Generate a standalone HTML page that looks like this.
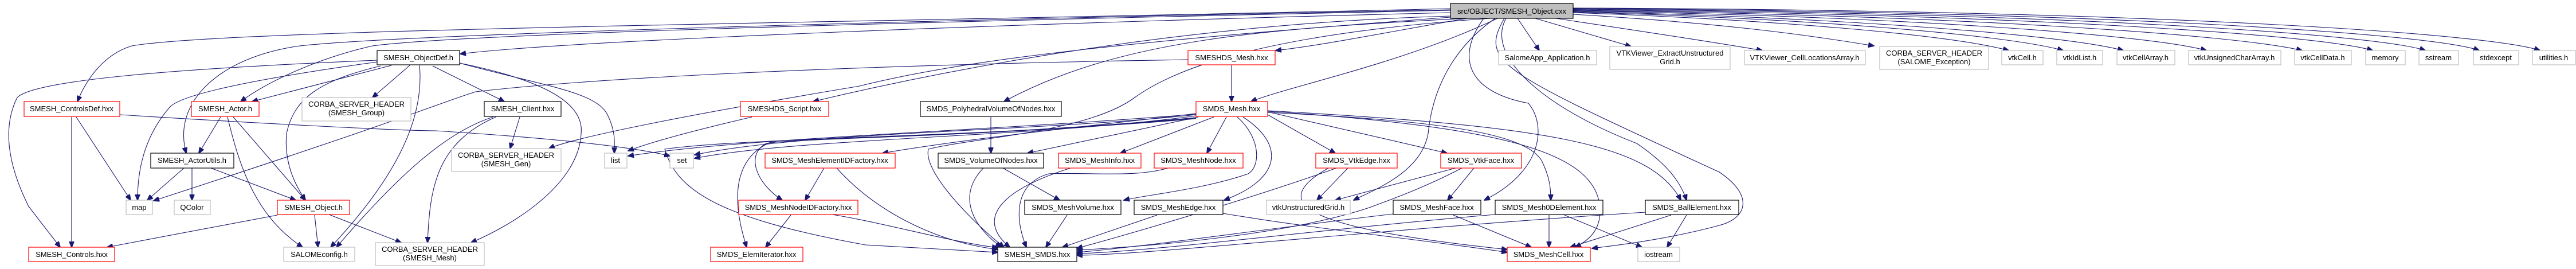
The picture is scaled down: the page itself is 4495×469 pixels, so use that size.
<!DOCTYPE html>
<html><head><meta charset="utf-8"><style>
html,body{margin:0;padding:0;background:#fff;}
svg{display:block;}
text{font-family:"Liberation Sans",sans-serif;font-size:13px;fill:#000;text-anchor:middle;}
.e{fill:none;stroke:#191970;stroke-width:1.1;}
.b{fill:#fff;stroke:#000;stroke-width:1.2;}
.r{fill:#fff;stroke:#f00;stroke-width:1.2;}
.g{fill:#fff;stroke:#bfbfbf;stroke-width:1.2;}
</style></head><body>
<svg width="4495" height="469" viewBox="0 0 4495 469" xmlns="http://www.w3.org/2000/svg">
<defs><marker id="a" markerWidth="11" markerHeight="9" refX="10" refY="4.5" orient="auto" markerUnits="userSpaceOnUse"><path d="M0,0 L11,4.5 L0,9 z" fill="#191970" stroke="#191970"/></marker></defs>
<g class="e" marker-end="url(#a)">
<!-- main to left -->
<path d="M2531,22 C1800,40 1000,70 803,94"/>
<path d="M2531,15 C1500,40 400,50 230,80 C180,95 150,140 135,177"/>
<path d="M2531,18 C1500,40 800,60 650,80 C560,100 470,140 420,177"/>
<path d="M2531,17 C1600,35 700,60 523,80 C380,100 300,180 325,267"/>
<path d="M2531,28 C2100,40 1700,110 1419,177"/>
<path d="M2531,30 C2000,70 1700,100 1500,150 C1200,200 1000,240 958,259"/>
<path d="M2560,32 C2200,50 1950,70 1752,177"/>
<path d="M2560,32 C2400,60 2300,80 2226,88"/>
<path d="M2613,32 C2450,110 2250,150 2183,177"/>
<path d="M2600,32 C2200,60 2050,120 1980,170 C1900,230 1700,240 1620,260 C1610,300 1700,390 1752,431"/>
<path d="M2609,32 C2540,80 2500,150 2492,233 C2480,300 2400,330 2362,349"/>
<path d="M2589,32 C2540,100 2560,160 2667,180 C2700,220 2690,300 2590,349"/>
<path d="M2628,32 C2590,100 2700,190 2856,250 C2900,280 2930,310 2943,349"/>
<path d="M2625,32 C2580,110 2620,125 3000,300 C3060,340 3050,380 3000,393 C2900,420 2800,430 2778,433"/>
<!-- main to right row -->
<path d="M2648,32 L2686,88"/>
<path d="M2679,32 L2846,81"/>
<path d="M2715,32 C2900,60 3000,75 3075,88"/>
<path d="M2745,25 C3000,40 3150,60 3270,80"/>
<path d="M2745,22 C3100,35 3400,60 3505,88"/>
<path d="M2745,21 C3150,32 3500,60 3600,88"/>
<path d="M2745,20 C3200,30 3600,60 3705,88"/>
<path d="M2745,19 C3300,28 3750,60 3850,88"/>
<path d="M2745,18 C3400,26 3900,60 4017,88"/>
<path d="M2745,17 C3500,24 4050,60 4140,88"/>
<path d="M2745,16 C3600,22 4150,60 4232,88"/>
<path d="M2745,15 C3700,20 4250,60 4326,88"/>
<path d="M2745,14 C3800,18 4350,60 4432,88"/>
<!-- ObjectDef -->
<path d="M658,105 C300,120 60,140 30,170 C0,230 20,300 50,360 L105,431"/>
<path d="M658,108 C500,130 320,160 296,187 C250,240 240,300 240,349"/>
<path d="M683,114 L440,177"/>
<path d="M715,114 L650,170"/>
<path d="M664,115 C560,140 513,170 500,233 C495,290 520,330 533,349"/>
<path d="M732,114 C740,200 700,300 577,431"/>
<path d="M802,110 C950,140 1020,180 1014,233 C1010,320 900,390 822,423"/>
<path d="M755,115 L880,177"/>
<path d="M802,110 C950,150 1040,160 1060,200 C1075,230 1072,250 1072,267"/>
<!-- CDef / Actor / AU / Obj -->
<path d="M209,200 C450,215 700,228 760,228 C950,240 1100,255 1169,272"/>
<path d="M133,204 L228,349"/>
<path d="M125,204 L125,431"/>
<path d="M385,204 L347,267"/>
<path d="M407,204 L533,349"/>
<path d="M397,204 C420,300 450,380 528,431"/>
<path d="M321,293 L257,349"/>
<path d="M335,293 L335,349"/>
<path d="M368,293 L516,349"/>
<path d="M484,375 L187,431"/>
<path d="M549,375 L555,431"/>
<path d="M574,374 L700,423"/>
<!-- Client -->
<path d="M907,204 L890,259"/>
<path d="M860,204 C780,230 700,300 587,431"/>
<path d="M865,204 C760,250 750,330 746,423"/>
<path d="M2073,104 C1400,115 1000,140 830,160 C780,175 700,210 268,350"/>
<path d="M1312,204 C1200,230 1130,250 1096,263"/>
<!-- SMDS_Mesh -->
<path d="M2149,114 L2149,177"/>
<path d="M2087,198 C1900,220 1700,240 1540,267"/>
<path d="M2087,200 C1800,230 1400,230 1212,270"/>
<path d="M2087,202 C1800,240 1400,240 1212,276"/>
<path d="M2087,199 C1700,230 1300,240 1096,272"/>
<path d="M2091,204 L1793,267"/>
<path d="M2118,204 L1955,267"/>
<path d="M2140,204 L2106,267"/>
<path d="M2159,204 C2200,240 2200,290 2178,303 C2100,330 2000,340 1961,349"/>
<path d="M2169,204 C2240,250 2240,310 2136,349"/>
<path d="M2212,200 L2330,267"/>
<path d="M2212,195 L2525,267"/>
<path d="M2212,196 C2500,210 2660,230 2690,280 C2705,310 2706,330 2706,349"/>
<path d="M2212,194 C2600,220 2770,260 2790,350 C2800,400 2770,420 2749,431"/>
<path d="M2212,193 C2700,220 2880,250 2933,349"/>
<path d="M2087,205 C1700,240 1400,240 1347,247 C1290,270 1270,330 1303,431"/>
<path d="M2087,206 C1700,240 1400,240 1337,250 C1300,270 1320,320 1365,349"/>
<path d="M2087,207 C1700,240 1300,240 1160,260 C1180,330 1250,380 1510,427 L1741,440"/>
<!-- lower -->
<path d="M1438,293 L1405,349"/>
<path d="M1460,293 C1520,360 1620,420 1741,435"/>
<path d="M1380,375 L1336,431"/>
<path d="M1452,374 C1550,390 1650,420 1741,432"/>
<path d="M1729,204 L1729,267"/>
<path d="M1716,293 C1680,330 1680,380 1747,431"/>
<path d="M1750,293 L1849,349"/>
<path d="M1868,293 C1750,330 1700,380 1762,431"/>
<path d="M2038,293 C1980,310 1900,300 1830,303 C1770,320 1770,380 1791,431"/>
<path d="M1862,375 L1825,431"/>
<path d="M2019,375 L1854,431"/>
<path d="M2134,372 C2300,400 2500,420 2630,440"/>
<path d="M2352,293 L2298,349"/>
<path d="M2540,293 L2330,349"/>
<path d="M2332,293 C2200,340 2000,400 1879,433"/>
<path d="M2318,293 C2200,360 2300,400 2630,435"/>
<path d="M2572,293 L2526,349"/>
<path d="M2551,293 C2480,330 2420,350 2395,360 C2250,410 2000,430 1879,436"/>
<path d="M2431,373 C2200,400 2000,430 1879,440"/>
<path d="M2536,375 L2672,431"/>
<path d="M2703,375 L2703,431"/>
<path d="M2730,375 L2865,431"/>
<path d="M2609,374 C2300,400 2000,440 1879,442"/>
<path d="M2916,375 L2740,431"/>
<path d="M2943,375 L2909,431"/>
<path d="M2871,370 C2400,400 2000,445 1879,445"/>
</g>
<g>
<rect class="g" x="2531" y="6" width="214" height="26" style="fill:#bfbfbf;stroke:#000"/><text x="2638" y="24">src/OBJECT/SMESH_Object.cxx</text>
<rect class="b" x="658" y="88" width="144" height="25"/><text x="730" y="105">SMESH_ObjectDef.h</text>
<rect class="r" x="42" y="177" width="167" height="26"/><text x="125" y="194">SMESH_ControlsDef.hxx</text>
<rect class="r" x="334" y="177" width="118" height="26"/><text x="393" y="194">SMESH_Actor.h</text>
<rect class="g" x="527" y="170" width="190" height="41"/><text x="622" y="186">CORBA_SERVER_HEADER</text><text x="622" y="201">(SMESH_Group)</text>
<rect class="b" x="263" y="267" width="145" height="26"/><text x="335" y="284">SMESH_ActorUtils.h</text>
<rect class="g" x="220" y="349" width="46" height="25"/><text x="243" y="366">map</text>
<rect class="g" x="304" y="349" width="63" height="25"/><text x="335" y="366">QColor</text>
<rect class="r" x="484" y="349" width="126" height="25"/><text x="547" y="366">SMESH_Object.h</text>
<rect class="r" x="50" y="431" width="150" height="25"/><text x="125" y="448">SMESH_Controls.hxx</text>
<rect class="g" x="495" y="431" width="124" height="25"/><text x="557" y="448">SALOMEconfig.h</text>
<rect class="g" x="655" y="423" width="190" height="40"/><text x="750" y="439">CORBA_SERVER_HEADER</text><text x="750" y="454">(SMESH_Mesh)</text>
<rect class="b" x="845" y="177" width="134" height="26"/><text x="912" y="194">SMESH_Client.hxx</text>
<rect class="g" x="788" y="259" width="191" height="40"/><text x="883" y="275">CORBA_SERVER_HEADER</text><text x="883" y="290">(SMESH_Gen)</text>
<rect class="g" x="1055" y="267" width="39" height="26"/><text x="1074" y="284">list</text>
<rect class="g" x="1169" y="267" width="41" height="26"/><text x="1190" y="284">set</text>
<rect class="r" x="1292" y="177" width="154" height="26"/><text x="1369" y="194">SMESHDS_Script.hxx</text>
<rect class="r" x="1335" y="267" width="227" height="26"/><text x="1448" y="284">SMDS_MeshElementIDFactory.hxx</text>
<rect class="r" x="1289" y="349" width="208" height="25"/><text x="1393" y="366">SMDS_MeshNodeIDFactory.hxx</text>
<rect class="r" x="1240" y="431" width="161" height="25"/><text x="1320" y="448">SMDS_ElemIterator.hxx</text>
<rect class="r" x="2073" y="88" width="152" height="25"/><text x="2149" y="105">SMESHDS_Mesh.hxx</text>
<rect class="b" x="1606" y="177" width="246" height="26"/><text x="1729" y="194">SMDS_PolyhedralVolumeOfNodes.hxx</text>
<rect class="r" x="2087" y="177" width="125" height="26"/><text x="2149" y="194">SMDS_Mesh.hxx</text>
<rect class="b" x="1637" y="267" width="184" height="26"/><text x="1729" y="284">SMDS_VolumeOfNodes.hxx</text>
<rect class="r" x="1847" y="267" width="144" height="26"/><text x="1919" y="284">SMDS_MeshInfo.hxx</text>
<rect class="r" x="2014" y="267" width="155" height="26"/><text x="2091" y="284">SMDS_MeshNode.hxx</text>
<rect class="b" x="1788" y="349" width="168" height="25"/><text x="1872" y="366">SMDS_MeshVolume.hxx</text>
<rect class="b" x="1979" y="349" width="155" height="25"/><text x="2056" y="366">SMDS_MeshEdge.hxx</text>
<rect class="g" x="2210" y="349" width="146" height="25"/><text x="2283" y="366">vtkUnstructuredGrid.h</text>
<rect class="b" x="1741" y="431" width="138" height="25"/><text x="1810" y="448">SMESH_SMDS.hxx</text>
<rect class="g" x="2615" y="88" width="171" height="25"/><text x="2700" y="105">SalomeApp_Application.h</text>
<rect class="g" x="2809" y="81" width="210" height="40"/><text x="2914" y="97">VTKViewer_ExtractUnstructured</text><text x="2914" y="112">Grid.h</text>
<rect class="r" x="2296" y="267" width="142" height="26"/><text x="2367" y="284">SMDS_VtkEdge.hxx</text>
<rect class="r" x="2514" y="267" width="141" height="26"/><text x="2584" y="284">SMDS_VtkFace.hxx</text>
<rect class="b" x="2431" y="349" width="153" height="25"/><text x="2507" y="366">SMDS_MeshFace.hxx</text>
<rect class="b" x="2609" y="349" width="188" height="25"/><text x="2703" y="366">SMDS_Mesh0DElement.hxx</text>
<rect class="b" x="2871" y="349" width="163" height="25"/><text x="2952" y="366">SMDS_BallElement.hxx</text>
<rect class="r" x="2630" y="431" width="145" height="25"/><text x="2702" y="448">SMDS_MeshCell.hxx</text>
<rect class="g" x="2858" y="431" width="73" height="25"/><text x="2894" y="448">iostream</text>
<rect class="g" x="3044" y="88" width="211" height="25"/><text x="3149" y="105">VTKViewer_CellLocationsArray.h</text>
<rect class="g" x="3280" y="81" width="190" height="40"/><text x="3375" y="97">CORBA_SERVER_HEADER</text><text x="3375" y="112">(SALOME_Exception)</text>
<rect class="g" x="3493" y="88" width="72" height="25"/><text x="3529" y="105">vtkCell.h</text>
<rect class="g" x="3589" y="88" width="80" height="25"/><text x="3629" y="105">vtkIdList.h</text>
<rect class="g" x="3694" y="88" width="101" height="25"/><text x="3744" y="105">vtkCellArray.h</text>
<rect class="g" x="3819" y="88" width="161" height="25"/><text x="3899" y="105">vtkUnsignedCharArray.h</text>
<rect class="g" x="4004" y="88" width="99" height="25"/><text x="4053" y="105">vtkCellData.h</text>
<rect class="g" x="4128" y="88" width="69" height="25"/><text x="4162" y="105">memory</text>
<rect class="g" x="4221" y="88" width="69" height="25"/><text x="4255" y="105">sstream</text>
<rect class="g" x="4316" y="88" width="79" height="25"/><text x="4355" y="105">stdexcept</text>
<rect class="g" x="4419" y="88" width="75" height="25"/><text x="4456" y="105">utilities.h</text>
</g>
</svg>
</body></html>
